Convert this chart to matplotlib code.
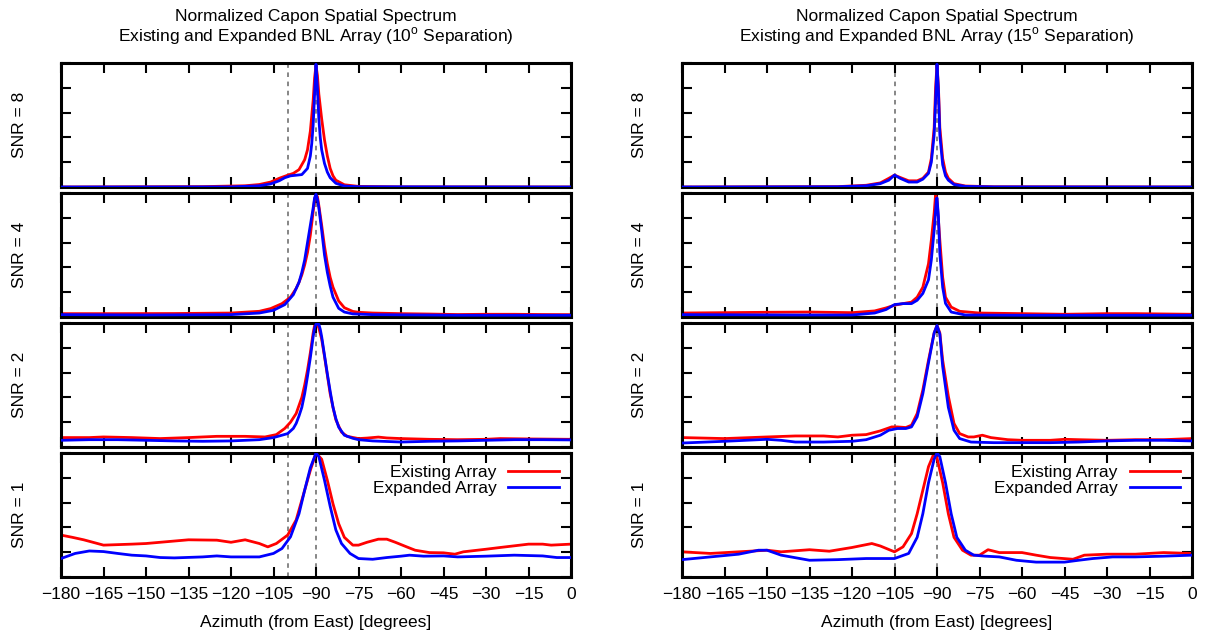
import matplotlib
matplotlib.use("Agg")
import matplotlib.pyplot as plt

plt.rcParams['font.family'] = ['Liberation Sans', 'DejaVu Sans']
plt.rcParams['mathtext.fontset'] = 'custom'
plt.rcParams['mathtext.rm'] = 'Liberation Sans'

# ---------------- data ----------------
snr_labels = ["SNR = 8", "SNR = 4", "SNR = 2", "SNR = 1"]
series_names = ["Existing Array", "Expanded Array"]
xticks = [-180, -165, -150, -135, -120, -105, -90, -75, -60, -45, -30, -15, 0]
titles = ["Normalized Capon Spatial Spectrum\nExisting and Expanded BNL Array (10$^{\\mathrm{o}}$ Separation)",
          "Normalized Capon Spatial Spectrum\nExisting and Expanded BNL Array (15$^{\\mathrm{o}}$ Separation)"]
xlabel = "Azimuth (from East) [degrees]"
source_lines_left = [-100, -90]
source_lines_right = [-105, -90]

# ---- left column (10 deg separation) ----
L8_red_x = [-180, -130, -115, -110, -106, -103, -100, -98, -96, -94, -93, -92, -91, -90.5, -90, -89.5, -89, -88, -87, -86, -85, -84, -83, -80, -75, -60, 0]
L8_red_y = [0, 0.003, 0.01, 0.02, 0.04, 0.07, 0.095, 0.11, 0.14, 0.22, 0.3, 0.45, 0.7, 0.88, 0.98, 0.9, 0.75, 0.55, 0.38, 0.25, 0.15, 0.09, 0.055, 0.018, 0.005, 0.001, 0]
L8_blue_x = [-180, -120, -110, -106, -103, -101, -99, -97, -95, -93, -92, -91.5, -91, -90.5, -90, -89.5, -89, -88.5, -88, -87, -86, -85, -83, -80, -75, 0]
L8_blue_y = [0, 0.001, 0.01, 0.025, 0.05, 0.075, 0.09, 0.095, 0.1, 0.15, 0.25, 0.35, 0.5, 0.75, 0.99, 0.8, 0.55, 0.4, 0.3, 0.19, 0.12, 0.075, 0.03, 0.008, 0.002, 0]

L4_red_x = [-180, -160, -140, -120, -110, -106, -102, -99, -97, -96, -95, -94, -93, -92, -91, -90.5, -90, -89.5, -89, -88, -87, -86, -85, -84, -82, -80, -77, -75, -70, -60, -50, -40, -30, -20, -10, 0]
L4_red_y = [0.027, 0.027, 0.028, 0.032, 0.046, 0.068, 0.108, 0.16, 0.23, 0.28, 0.34, 0.42, 0.52, 0.66, 0.85, 0.95, 0.99, 0.97, 0.9, 0.74, 0.57, 0.43, 0.32, 0.24, 0.13, 0.075, 0.045, 0.038, 0.032, 0.027, 0.024, 0.02, 0.022, 0.022, 0.02, 0.019]
L4_blue_x = [-180, -150, -120, -110, -105, -101, -98, -96, -95, -94, -93, -92, -91, -90.5, -90, -89.5, -89, -88, -87, -86, -85, -84, -82, -80, -77, -70, -40, 0]
L4_blue_y = [0.019, 0.016, 0.019, 0.032, 0.054, 0.10, 0.18, 0.28, 0.36, 0.46, 0.6, 0.74, 0.88, 0.96, 0.99, 0.95, 0.88, 0.7, 0.5, 0.36, 0.25, 0.16, 0.07, 0.04, 0.025, 0.019, 0.014, 0.014]

L2_red_x = [-180, -170, -165, -155, -145, -135, -125, -115, -108, -104, -101, -99, -97, -95, -94, -93, -92, -91, -90.5, -90, -89.5, -89, -88, -87, -86, -85, -84, -83, -81, -79, -75, -72, -68, -65, -60, -50, -40, -30, -25, -15, 0]
L2_red_y = [0.076, 0.076, 0.081, 0.076, 0.068, 0.076, 0.086, 0.086, 0.081, 0.10, 0.15, 0.2, 0.27, 0.4, 0.5, 0.62, 0.76, 0.92, 0.98, 1.0, 0.99, 0.96, 0.87, 0.73, 0.58, 0.43, 0.32, 0.22, 0.12, 0.086, 0.068, 0.072, 0.08, 0.073, 0.068, 0.062, 0.059, 0.062, 0.068, 0.065, 0.062]
L2_blue_x = [-180, -170, -160, -150, -140, -130, -120, -110, -105, -100, -98, -97, -96, -95, -94, -93, -92, -91, -90.5, -90, -89, -88.5, -88, -87, -86, -85, -84, -83, -82, -80, -77, -75, -70, -60, -50, -40, -30, -20, -10, 0]
L2_blue_y = [0.054, 0.059, 0.059, 0.054, 0.049, 0.046, 0.049, 0.059, 0.076, 0.108, 0.15, 0.19, 0.25, 0.32, 0.43, 0.57, 0.72, 0.89, 0.96, 0.99, 0.99, 0.95, 0.89, 0.74, 0.59, 0.45, 0.32, 0.23, 0.16, 0.095, 0.07, 0.059, 0.049, 0.04, 0.046, 0.049, 0.054, 0.059, 0.059, 0.057]

L1_red_x = [-180, -176, -172, -165, -155, -150, -140, -135, -125, -120, -115, -110, -107, -104, -100, -97, -94, -92, -90, -88, -86, -84, -82, -80, -77, -75, -72, -68, -65, -62, -58, -55, -50, -45, -41, -38, -30, -25, -15, -10, -7, 0]
L1_red_y = [0.338, 0.32, 0.30, 0.257, 0.265, 0.27, 0.29, 0.30, 0.297, 0.28, 0.30, 0.27, 0.243, 0.27, 0.338, 0.46, 0.70, 0.86, 1.0, 0.95, 0.78, 0.59, 0.43, 0.32, 0.257, 0.257, 0.28, 0.305, 0.305, 0.28, 0.243, 0.216, 0.197, 0.195, 0.184, 0.203, 0.224, 0.238, 0.265, 0.265, 0.257, 0.265]
L1_blue_x = [-180, -175, -170, -165, -160, -155, -150, -145, -140, -130, -125, -120, -110, -105, -102, -99, -96, -94, -92, -90, -89, -87, -85, -83, -81, -78, -75, -70, -65, -60, -57, -52, -45, -40, -30, -20, -10, -5, 0]
L1_blue_y = [0.149, 0.19, 0.21, 0.205, 0.19, 0.176, 0.17, 0.157, 0.154, 0.162, 0.17, 0.162, 0.162, 0.19, 0.23, 0.324, 0.51, 0.70, 0.88, 1.0, 0.97, 0.78, 0.57, 0.38, 0.27, 0.19, 0.149, 0.143, 0.157, 0.168, 0.176, 0.168, 0.17, 0.162, 0.168, 0.176, 0.17, 0.157, 0.157]

# ---- right column (15 deg separation) ----
R8_red_x = [-180, -125, -115, -110, -107, -105, -103, -100, -97, -95, -93, -92, -91, -90.5, -90, -89.5, -89, -88, -87, -86, -84, -80, -70, 0]
R8_red_y = [0, 0.003, 0.014, 0.033, 0.07, 0.096, 0.077, 0.05, 0.05, 0.07, 0.12, 0.23, 0.48, 0.8, 0.99, 0.81, 0.48, 0.23, 0.12, 0.07, 0.027, 0.008, 0.002, 0]
R8_blue_x = [-180, -125, -115, -110, -107, -105, -103, -100, -97, -95, -93, -92, -91, -90.5, -90, -89.5, -89, -88, -87, -86, -84, -80, -70, 0]
R8_blue_y = [0, 0.002, 0.01, 0.027, 0.055, 0.096, 0.07, 0.04, 0.04, 0.063, 0.11, 0.2, 0.42, 0.7, 0.99, 0.78, 0.42, 0.18, 0.09, 0.055, 0.02, 0.005, 0.001, 0]

R4_red_x = [-180, -150, -135, -120, -112, -108, -105, -102, -99, -97, -95, -93, -92, -91, -90.5, -90, -89, -88, -87, -85, -82, -75, -60, -45, -30, -20, 0]
R4_red_y = [0.032, 0.038, 0.04, 0.035, 0.049, 0.073, 0.095, 0.108, 0.12, 0.16, 0.24, 0.43, 0.62, 0.84, 0.99, 0.95, 0.62, 0.32, 0.16, 0.08, 0.046, 0.032, 0.027, 0.022, 0.027, 0.027, 0.022]
R4_blue_x = [-180, -140, -120, -112, -108, -105, -102, -99, -97, -95, -93, -92, -91, -90.2, -90, -89.5, -89, -88, -87, -85, -80, -60, 0]
R4_blue_y = [0.019, 0.016, 0.016, 0.032, 0.06, 0.10, 0.108, 0.108, 0.135, 0.19, 0.30, 0.46, 0.70, 0.95, 0.96, 0.81, 0.51, 0.24, 0.11, 0.04, 0.016, 0.014, 0.014]

R2_red_x = [-180, -165, -150, -140, -130, -125, -120, -115, -110, -106, -104, -101, -99, -97, -95, -93, -91, -90, -89, -88, -86, -84, -82, -79, -77, -74, -71, -65, -60, -50, -45, -40, -30, -20, -10, 0]
R2_red_y = [0.076, 0.068, 0.081, 0.089, 0.089, 0.081, 0.095, 0.10, 0.13, 0.162, 0.162, 0.157, 0.176, 0.27, 0.46, 0.70, 0.92, 0.98, 0.92, 0.70, 0.41, 0.19, 0.108, 0.081, 0.081, 0.095, 0.076, 0.059, 0.054, 0.054, 0.062, 0.059, 0.054, 0.059, 0.059, 0.068]
R2_blue_x = [-180, -165, -150, -145, -140, -130, -120, -115, -110, -107, -104, -101, -99, -97, -95, -93, -91, -90, -89, -88, -86, -84, -82, -78, -70, -60, -50, -40, -30, -20, -10, 0]
R2_blue_y = [0.032, 0.046, 0.062, 0.054, 0.04, 0.04, 0.046, 0.059, 0.095, 0.135, 0.149, 0.149, 0.162, 0.243, 0.43, 0.68, 0.92, 0.98, 0.91, 0.65, 0.32, 0.135, 0.068, 0.04, 0.035, 0.035, 0.035, 0.04, 0.049, 0.054, 0.054, 0.049]

R1_red_x = [-180, -170, -160, -150, -145, -135, -128, -120, -113, -110, -105, -102, -99, -97, -95, -93, -91, -90, -88, -86, -84, -81, -78, -75, -72, -68, -60, -55, -50, -42, -38, -30, -20, -10, 0]
R1_red_y = [0.203, 0.19, 0.203, 0.216, 0.203, 0.22, 0.208, 0.238, 0.27, 0.25, 0.203, 0.243, 0.35, 0.51, 0.70, 0.89, 1.0, 0.96, 0.76, 0.51, 0.32, 0.216, 0.176, 0.176, 0.22, 0.197, 0.197, 0.176, 0.157, 0.143, 0.176, 0.184, 0.184, 0.197, 0.19]
R1_blue_x = [-180, -170, -160, -153, -150, -145, -135, -125, -115, -105, -100, -97, -95, -93, -91, -90, -89, -87, -85, -83, -80, -77, -73, -68, -62, -55, -45, -40, -35, -28, -20, -10, 0]
R1_blue_y = [0.14, 0.162, 0.184, 0.216, 0.216, 0.176, 0.135, 0.14, 0.149, 0.149, 0.19, 0.32, 0.51, 0.76, 0.95, 1.0, 0.97, 0.76, 0.51, 0.32, 0.216, 0.176, 0.168, 0.162, 0.135, 0.12, 0.12, 0.135, 0.149, 0.162, 0.162, 0.168, 0.176]

left_curves = [(L8_red_x, L8_red_y, L8_blue_x, L8_blue_y),
               (L4_red_x, L4_red_y, L4_blue_x, L4_blue_y),
               (L2_red_x, L2_red_y, L2_blue_x, L2_blue_y),
               (L1_red_x, L1_red_y, L1_blue_x, L1_blue_y)]
right_curves = [(R8_red_x, R8_red_y, R8_blue_x, R8_blue_y),
                (R4_red_x, R4_red_y, R4_blue_x, R4_blue_y),
                (R2_red_x, R2_red_y, R2_blue_x, R2_blue_y),
                (R1_red_x, R1_red_y, R1_blue_x, R1_blue_y)]

# ---------------- layout ----------------
W, H = 1206, 634
fig = plt.figure(figsize=(W / 100, H / 100), dpi=100)
FS = 12.5
col_left = [61, 682]
col_w = 510
panel_tops = [63, 193, 323, 453]
panel_h = 124

def px_rect(x, top, w, h):
    return [x / W, 1 - (top + h) / H, w / W, h / H]

for col, (cx, curves, vlines, title) in enumerate(zip(col_left,
                                                     [left_curves, right_curves],
                                                     [source_lines_left, source_lines_right],
                                                     titles)):
    for i, (top, (rx, ry, bx, by)) in enumerate(zip(panel_tops, curves)):
        ax = fig.add_axes(px_rect(cx, top, col_w, panel_h))
        for v in vlines:
            ax.axvline(v, color='#666666', linestyle=(0, (3, 3)), linewidth=1.1, zorder=1)
        ax.plot(rx, ry, color='#ff0000', linewidth=2.0, label=series_names[0], zorder=2,
                solid_joinstyle='round')
        ax.plot(bx, by, color='#0000ff', linewidth=2.0, label=series_names[1], zorder=3,
                solid_joinstyle='round')
        ax.set_xlim(-180, 0)
        ax.set_ylim(0, 1)
        ax.set_xticks(xticks)
        ax.set_yticks([0, 0.2, 0.4, 0.6, 0.8, 1.0])
        ax.tick_params(direction='in', length=7, width=1.5, top=True, right=True,
                       labelleft=False, labelsize=FS, pad=7)
        ax.tick_params(axis='x', labelbottom=(i == 3))
        for s in ax.spines.values():
            s.set_linewidth(2.2)
        fig.text((cx - 42) / W, 1 - (top + panel_h / 2) / H, snr_labels[i],
                 rotation=90, ha='center', va='center', fontsize=FS)
        if i == 3:
            ax.legend(loc='upper right', frameon=False, markerfirst=False, fontsize=FS,
                      handlelength=2.9, labelspacing=0.05, borderaxespad=0.3,
                      handletextpad=0.7)
    fig.text((cx + col_w / 2) / W, 1 - 28 / H, title, ha='center', va='center',
             fontsize=FS, linespacing=1.1)
    fig.text((cx + col_w / 2) / W, 1 - 622 / H, xlabel, ha='center', va='center', fontsize=FS)

fig.savefig("out.png", dpi=100)
